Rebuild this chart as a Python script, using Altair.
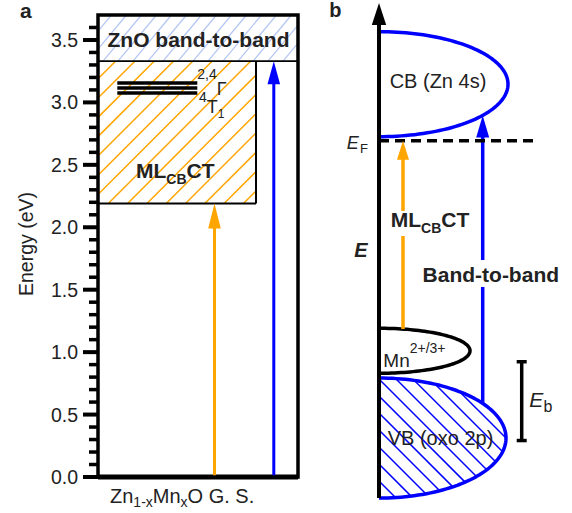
import math
import altair as alt
import pandas as pd

# ---------------- canvas ----------------
OFF = 98                   # canvas x of the panel-a frame (panel coordinates start there)
CANVAS_W = 572
H = 462                    # plot height in px (y in eV)
Y_MAX = 3.7                # eV at the top of panel a
K = H / Y_MAX              # px per eV
FONT = "Liberation Sans"
INK = "#222222"
BLUE = "#0000ff"
ORANGE = "#ffa500"
HATCH_BLUE = "#b3c5f3"

# ---------------- panel a data (x in px from frame left, y in eV) ----------------
panel_a_right = 200
zno_band = [3.33, 3.70]
mlcbct_band = [2.19, 3.33]
mlcbct_right = 158
mn_levels = [3.155, 3.115, 3.075]
mn_level_x = [19.3, 99.3]
arrow_a_x = [116.5, 175.8]
arrow_a_tip = [2.19, 3.33]
arrow_a_color = [ORANGE, BLUE]
major_ticks = [0.0, 0.5, 1.0, 1.5, 2.0, 2.5, 3.0, 3.5]
major_tick_labels = ["0.0", "0.5", "1.0", "1.5", "2.0", "2.5", "3.0", "3.5"]
minor_ticks = [0.1, 0.2, 0.3, 0.4, 0.6, 0.7, 0.8, 0.9, 1.1, 1.2, 1.3, 1.4,
               1.6, 1.7, 1.8, 1.9, 2.1, 2.2, 2.3, 2.4, 2.6, 2.7, 2.8, 2.9,
               3.1, 3.2, 3.3, 3.4, 3.6]
major_tick_len, major_tick_w = 15, 4
minor_tick_len, minor_tick_w = 9, 3.5

# ---------------- panel b data (schematic) ----------------
axis_b_x = 281
axis_b_range = [-0.168, 3.796]
cb_band = dict(cx=281, cy=3.146, a=129, b=52.5)
mn_band = dict(cx=281, cy=1.011, a=91, b=22.5)
vb_band = dict(cx=281, cy=0.312, a=127, b=60)
fermi_level = 2.693
fermi_x = [281, 439]
arrow_b_x = [305, 384.7]
arrow_b_from = [1.185, 0.589]
arrow_b_tip = [2.693, 2.896]
arrow_b_gap = [[1.930, 2.131], [1.522, 1.738]]
arrow_b_color = [ORANGE, BLUE]
eb_x = 423.7
eb_range = [0.292, 0.923]

SC_X = alt.Scale(domain=[0, CANVAS_W], nice=False, zero=False)
SC_Y = alt.Scale(domain=[0, Y_MAX], nice=False, zero=False)


def X(f):
    return alt.X(f, type="quantitative", scale=SC_X, axis=None)


def Y(f):
    return alt.Y(f, type="quantitative", scale=SC_Y, axis=None)


def rules(rows):
    return alt.Chart(pd.DataFrame(rows)).mark_rule(strokeCap="butt").encode(
        x=X("x"), x2=alt.X2("x2"), y=Y("y"), y2=alt.Y2("y2"),
        color=alt.Color("color:N", scale=None),
        strokeWidth=alt.StrokeWidth("w:Q", scale=None),
    )


# ---------------- line segments ----------------
seg_rows = []


def seg(x, x2, y, y2, color, w):
    seg_rows.append(dict(x=x + OFF, x2=x2 + OFF, y=y, y2=y2, color=color, w=w))


seg(0, panel_a_right, zno_band[0], zno_band[0], "black", 1.7)
seg(mlcbct_right, mlcbct_right, mlcbct_band[0], mlcbct_band[1], "black", 2)
seg(0, mlcbct_right, mlcbct_band[0], mlcbct_band[0], "black", 2)
for lv in mn_levels:
    seg(mn_level_x[0], mn_level_x[1], lv, lv, "black", 3.5)
seg(0, panel_a_right, 0, 0, "black", 5)

head_rows = []


def head(x, tip, h, hw, color):
    r = h / 2
    q = hw / r
    head_rows.append(dict(x=x + OFF, tip=tip, color=color,
                          shape=f"M0,0L{q:.3f},2L{-q:.3f},2Z", size=h * h))
    return tip - 0.6 * h / K


# panel a arrows
for x, tip, col, h in zip(arrow_a_x, arrow_a_tip, arrow_a_color, [25, 23]):
    top = head(x, tip, h, 6.3, col)
    seg(x, x, 0, top, col, 3)

# panel b energy axis
top = head(axis_b_x, axis_b_range[1], 22, 7.2, "black")
seg(axis_b_x, axis_b_x, axis_b_range[0], top, "black", 4)

# panel b transitions
for x, y0, tip, gap, col, h, hw in zip(arrow_b_x, arrow_b_from, arrow_b_tip,
                                        arrow_b_gap, arrow_b_color, [19, 22], [6, 6.5]):
    top = head(x, tip, h, hw, col)
    seg(x, x, y0, gap[0], col, 3.5)
    seg(x, x, gap[1], top, col, 3.5)

# E_b bracket
seg(eb_x, eb_x, eb_range[0], eb_range[1], "black", 3.5)
for yy in eb_range:
    seg(eb_x - 5, eb_x + 5, yy, yy, "black", 3.5)

segments = rules(seg_rows)


# ---------------- outward energy-axis ticks of panel a (drawn last) ----------------
def tick_layer(values, length, width):
    df = pd.DataFrame({"v": values,
                       "x0": [OFF - length] * len(values),
                       "x1": [OFF + 1] * len(values)})
    return alt.Chart(df).mark_rule(color="#000000", strokeWidth=width,
                                   strokeCap="butt", opacity=1).encode(
        x=X("x0"), x2=alt.X2("x1"), y=Y("v"))


major_tick_layer = tick_layer(major_ticks, major_tick_len, major_tick_w)
minor_tick_layer = tick_layer(minor_ticks, minor_tick_len, minor_tick_w)

heads = alt.Chart(pd.DataFrame(head_rows)).mark_point(
    filled=True, opacity=1, strokeWidth=0
).encode(
    x=X("x"), y=Y("tip"),
    color=alt.Color("color:N", scale=None),
    shape=alt.Shape("shape:N", scale=None),
    size=alt.Size("size:Q", scale=None),
)

fermi = alt.Chart(pd.DataFrame({"x": [fermi_x[0] + OFF], "x2": [fermi_x[1] + OFF],
                                "y": [fermi_level]})).mark_rule(
    color="black", strokeWidth=3.5, strokeDash=[10, 6]
).encode(x=X("x"), x2=alt.X2("x2"), y=Y("y"))

frame = alt.Chart(pd.DataFrame({"x": [OFF], "x2": [panel_a_right + OFF],
                                "y": [0], "y2": [Y_MAX]})).mark_rect(
    fillOpacity=0, stroke="black", strokeWidth=3.5
).encode(x=X("x"), x2=alt.X2("x2"), y=Y("y"), y2=alt.Y2("y2"))


# ---------------- hatching ----------------
def rect_hatch(x0, x1, y0, y1, spacing, slope, phase, color, width):
    x0, x1, phase = x0 + OFF, x1 + OFF, phase + OFF
    run = (y1 - y0) * K / slope
    n = math.ceil((run + phase - x0) / spacing) + 1
    start = phase - n * spacing
    return alt.Chart(alt.sequence(start=start, stop=x1, step=spacing, as_="t")).transform_calculate(
        xs=f"max({x0}, datum.t)",
        xe=f"min({x1}, datum.t + {run})",
        ys=f"{y0} + {slope} * (datum.xs - datum.t) / {K}",
        ye=f"{y0} + {slope} * (datum.xe - datum.t) / {K}",
    ).transform_filter("datum.xe > datum.xs + 0.5").mark_rule(
        color=color, strokeWidth=width
    ).encode(x=X("xs:Q"), x2=alt.X2("xe:Q"), y=Y("ys:Q"), y2=alt.Y2("ye:Q"))


def ellipse_hatch(band, m, spacing, color, width):
    cx, cy, a, b = band["cx"] + OFF, band["cy"], band["a"], band["b"]
    A = 1 / a ** 2 + m ** 2 / b ** 2
    return alt.Chart(alt.sequence(start=-b / m, stop=a + b / m, step=spacing, as_="t")).transform_calculate(
        B=f"-2 * {m * m} * datum.t / {b * b}",
        C=f"{m * m} * datum.t * datum.t / {b * b} - 1",
        disc=f"datum.B * datum.B - 4 * {A} * datum.C",
    ).transform_filter("datum.disc > 0").transform_calculate(
        us=f"max(0, (-datum.B - sqrt(datum.disc)) / {2 * A})",
        ue=f"(-datum.B + sqrt(datum.disc)) / {2 * A}",
    ).transform_filter("datum.ue > datum.us + 0.5").transform_calculate(
        xs=f"{cx} + datum.us",
        xe=f"{cx} + datum.ue",
        ys=f"{cy} - {m} * (datum.us - datum.t) / {K}",
        ye=f"{cy} - {m} * (datum.ue - datum.t) / {K}",
    ).mark_rule(color=color, strokeWidth=width).encode(
        x=X("xs:Q"), x2=alt.X2("xe:Q"), y=Y("ys:Q"), y2=alt.Y2("ye:Q"))


def half_ellipse(band, color, width):
    cx, cy, a, b = band["cx"] + OFF, band["cy"], band["a"], band["b"]
    return alt.Chart(alt.sequence(start=-90, stop=91, step=2, as_="th")).transform_calculate(
        ex=f"{cx} + {a} * cos(datum.th * PI / 180)",
        ey=f"{cy} + {b / K} * sin(datum.th * PI / 180)",
    ).mark_line(color=color, strokeWidth=width, strokeJoin="round").encode(
        x=X("ex:Q"), y=Y("ey:Q"), order=alt.Order("th:Q"))


zno_hatch = rect_hatch(0, panel_a_right, zno_band[0], zno_band[1], 15, 1.2, 5, HATCH_BLUE, 1.2)
ml_hatch = rect_hatch(0, mlcbct_right, mlcbct_band[0], mlcbct_band[1], 19.3, 1.0, 10.3, ORANGE, 1.5)
vb_hatch = ellipse_hatch(vb_band, 1.0, 17, BLUE, 1.5)

cb_line = half_ellipse(cb_band, BLUE, 3.5)
mn_line = half_ellipse(mn_band, "black", 3.5)
vb_line = half_ellipse(vb_band, BLUE, 3.5)

# ---------------- tick labels (panel a) ----------------
tick_labels = alt.Chart(pd.DataFrame({"v": major_ticks, "lab": major_tick_labels,
                                      "x": [OFF - (major_tick_len + 5)] * len(major_ticks)})
                        ).mark_text(font=FONT, fontSize=19.5, color=INK, align="right",
                                    baseline="middle", dy=1).encode(
    x=X("x"), y=Y("v"), text="lab:N")

# ---------------- text ----------------
W_REG = {" ": 278, "(": 333, ")": 333, "+": 584, ",": 278, "-": 333, ".": 278,
         "/": 278, "B": 667, "C": 722, "E": 667, "F": 611, "G": 778, "L": 556,
         "M": 833, "O": 778, "S": 667, "T": 611, "V": 667, "Z": 611, "Γ": 556,
         "b": 556, "n": 556, "x": 500, "s": 500}
W_BOLD = {" ": 278, "-": 333, "B": 722, "C": 722, "L": 611, "M": 833, "T": 611}


def tw(s, size, bold=False):
    table = W_BOLD if bold else W_REG
    return sum(table.get(c, 556) for c in s) * size / 1000


text_rows = []


def label(text, x, y, size, weight="normal", style="normal", align="left", angle=0):
    text_rows.append(dict(text=text, x=x + OFF, y=y, size=size, weight=weight,
                          style=style, align=align, angle=angle))


def chain(x, parts, weight="normal", style="normal"):
    for text, y, size in parts:
        label(text, x, y, size, weight, style)
        x += tw(text, size, weight == "bold")


# panel a
label("a", -78, 3.674, 21, "bold")
label("ZnO band-to-band", 100.5, 3.446, 21, "bold", align="center")
chain(38, [("ML", 2.392, 21), ("CB", 2.344, 14), ("CT", 2.392, 21)], "bold")
chain(99.3, [("2,4", 3.191, 14), ("Γ", 3.059, 18)])
chain(101, [("4", 3.003, 14), ("T", 2.915, 18), ("1", 2.875, 12)])
chain(12, [("Zn", -0.211, 20), ("1-x", -0.243, 14), ("Mn", -0.211, 20),
           ("x", -0.243, 14), ("O G. S.", -0.211, 20)])
label("Energy (eV)", -64.7, 1.866, 19.5, align="center", angle=270)

# panel b
label("b", 231.3, 3.686, 20, "bold")
label("CB (Zn 4s)", 340, 3.113, 20, align="center")
label("E", 248.7, 2.624, 18, style="italic")
label("F", 262, 2.593, 13)
chain(292.7, [("ML", 2.005, 21), ("CB", 1.958, 14), ("CT", 2.005, 21)], "bold")
label("E", 263, 1.762, 20, "bold", "italic", align="center")
label("Band-to-band", 392.8, 1.559, 21, "bold", align="center")
chain(285.3, [("Mn", 0.883, 19), ("2+/3+", 0.991, 14)])
label("VB (oxo 2p)", 342.5, 0.256, 20, align="center")
label("E", 431.3, 0.561, 21, style="italic")
label("b", 445.5, 0.517, 16)

text_df = pd.DataFrame(text_rows)
text_layers = []
for (weight, style, align, angle), sub in text_df.groupby(["weight", "style", "align", "angle"]):
    text_layers.append(
        alt.Chart(sub.reset_index(drop=True)).mark_text(
            font=FONT, fontWeight=weight, fontStyle=style, align=align,
            baseline="alphabetic", angle=int(angle), color=INK
        ).encode(x=X("x"), y=Y("y"), text="text:N",
                 size=alt.Size("size:Q", scale=None))
    )

chart = alt.layer(
    zno_hatch, ml_hatch, vb_hatch, cb_line, mn_line, vb_line,
    segments, fermi, frame, heads, tick_labels, *text_layers,
    minor_tick_layer, major_tick_layer
).properties(
    width=CANVAS_W, height=H,
    autosize=alt.AutoSizeParams(type="none"),
    padding={"left": 0, "top": 15, "right": 0, "bottom": 36},
    background="white",
).configure_view(stroke=None)

chart.save("out.html", embed_options={"renderer": "svg", "actions": False})
